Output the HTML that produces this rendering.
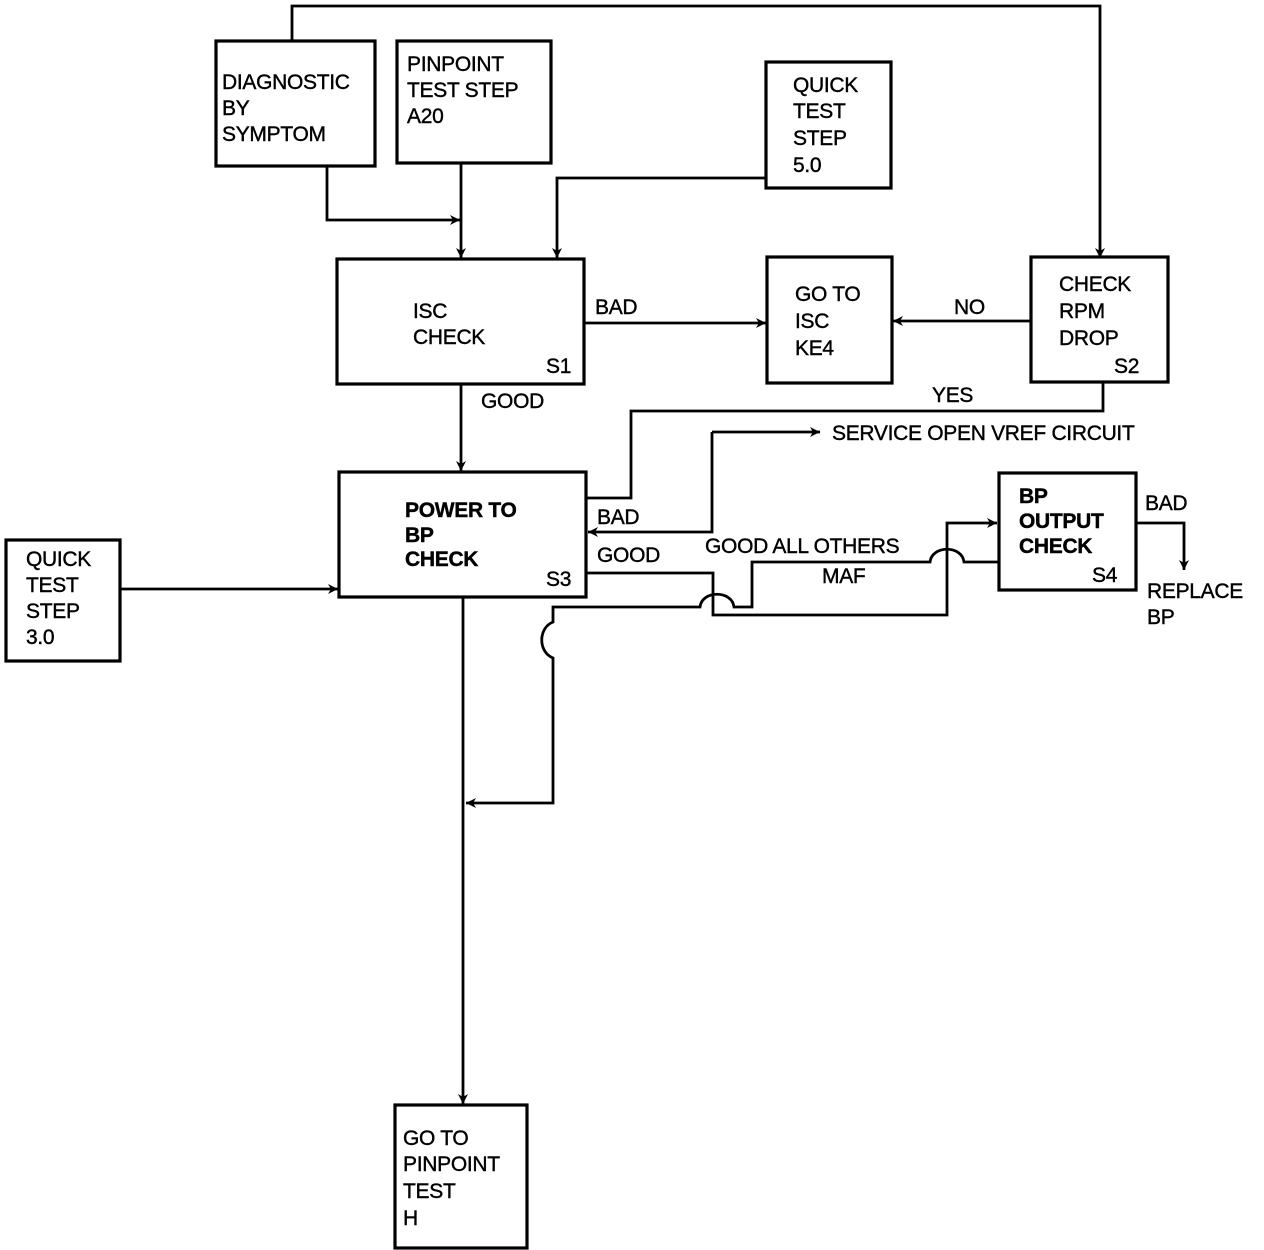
<!DOCTYPE html>
<html><head><style>
html,body{margin:0;padding:0;background:#fff;}
svg{display:block;}
text{font-family:"Liberation Sans",Arial,sans-serif;font-size:21px;fill:#000;stroke:#000;stroke-width:0.4;letter-spacing:-0.3px;}
</style></head><body>
<svg width="1264" height="1250" viewBox="0 0 1264 1250" xmlns="http://www.w3.org/2000/svg">
<defs>
<marker id="b" viewBox="0 0 10 10" refX="10" refY="5" markerWidth="14" markerHeight="10" orient="auto" markerUnits="userSpaceOnUse">
<path d="M0,0 L10,5 L0,10 L3,5 Z" fill="#000"/></marker>
</defs>
<g fill="none" stroke="#000" stroke-width="3.2">
<rect x="216" y="41" width="159" height="125"/>
<rect x="397" y="41" width="154" height="122"/>
<rect x="766" y="62" width="125" height="126"/>
<rect x="337" y="259" width="247" height="125"/>
<rect x="767" y="257" width="125" height="126"/>
<rect x="1031" y="257" width="137" height="125"/>
<rect x="339" y="472" width="247" height="125"/>
<rect x="6" y="540" width="114" height="121"/>
<rect x="999" y="473" width="137" height="117"/>
<rect x="395" y="1105" width="132" height="143"/>
</g>
<g fill="none" stroke="#000" stroke-width="2.8">
<path d="M292,41 V6 H1100 V258" marker-end="url(#b)"/>
<path d="M327,166 V220 H460" marker-end="url(#b)"/>
<path d="M461,163 V258" marker-end="url(#b)"/>
<path d="M766,178 H557 V258" marker-end="url(#b)"/>
<path d="M584,323 H766" marker-end="url(#b)"/>
<path d="M1031,321 H893" marker-end="url(#b)"/>
<path d="M461,384 V471" marker-end="url(#b)"/>
<path d="M120,589 H338" marker-end="url(#b)"/>
<path d="M463,597 V1104" marker-end="url(#b)"/>
<path d="M1136,523 H1184 V570" marker-end="url(#b)"/>
<path d="M1103,382 V411 H631 V498 H586"/>
<path d="M712,432 H820" marker-end="url(#b)"/>
<path d="M712,432 V532 H588" marker-end="url(#b)"/>
<path d="M586,573 H713 V615 H947 V523 H997" marker-end="url(#b)"/>
<path d="M999,562 H964 C962,545 932,545 930,562 H752 V607 H734 C732,590 702,590 700,607 H553 V622 C538,628 538,652 553,658 V803 H466" marker-end="url(#b)"/>
</g>
<text x="222" y="89">DIAGNOSTIC</text>
<text x="222" y="115">BY</text>
<text x="222" y="141">SYMPTOM</text>
<text x="407" y="71">PINPOINT</text>
<text x="407" y="97">TEST STEP</text>
<text x="407" y="123">A20</text>
<text x="793" y="92">QUICK</text>
<text x="793" y="118">TEST</text>
<text x="793" y="145">STEP</text>
<text x="793" y="172">5.0</text>
<text x="413" y="318">ISC</text>
<text x="413" y="344">CHECK</text>
<text x="546" y="373" font-size="19">S1</text>
<text x="595" y="314">BAD</text>
<text x="795" y="301">GO TO</text>
<text x="795" y="328">ISC</text>
<text x="795" y="355">KE4</text>
<text x="954" y="314">NO</text>
<text x="1059" y="291">CHECK</text>
<text x="1059" y="318">RPM</text>
<text x="1059" y="345">DROP</text>
<text x="1114" y="373" font-size="19">S2</text>
<text x="481" y="408">GOOD</text>
<text x="932" y="402">YES</text>
<text x="832" y="440">SERVICE OPEN VREF CIRCUIT</text>
<text x="405" y="517" font-weight="bold" font-size="20">POWER TO</text>
<text x="405" y="542" font-weight="bold" font-size="20">BP</text>
<text x="405" y="566" font-weight="bold" font-size="20">CHECK</text>
<text x="546" y="586" font-size="19">S3</text>
<text x="597" y="524">BAD</text>
<text x="597" y="562">GOOD</text>
<text x="705" y="553">GOOD ALL OTHERS</text>
<text x="822" y="583">MAF</text>
<text x="1019" y="503" font-weight="bold" font-size="19">BP</text>
<text x="1019" y="528" font-weight="bold" font-size="19">OUTPUT</text>
<text x="1019" y="553" font-weight="bold" font-size="19">CHECK</text>
<text x="1092" y="582" font-size="19">S4</text>
<text x="1145" y="510">BAD</text>
<text x="1147" y="598">REPLACE</text>
<text x="1147" y="624">BP</text>
<text x="26" y="566">QUICK</text>
<text x="26" y="592">TEST</text>
<text x="26" y="618">STEP</text>
<text x="26" y="644">3.0</text>
<text x="403" y="1145">GO TO</text>
<text x="403" y="1171">PINPOINT</text>
<text x="403" y="1198">TEST</text>
<text x="403" y="1225">H</text>
</svg>
</body></html>
